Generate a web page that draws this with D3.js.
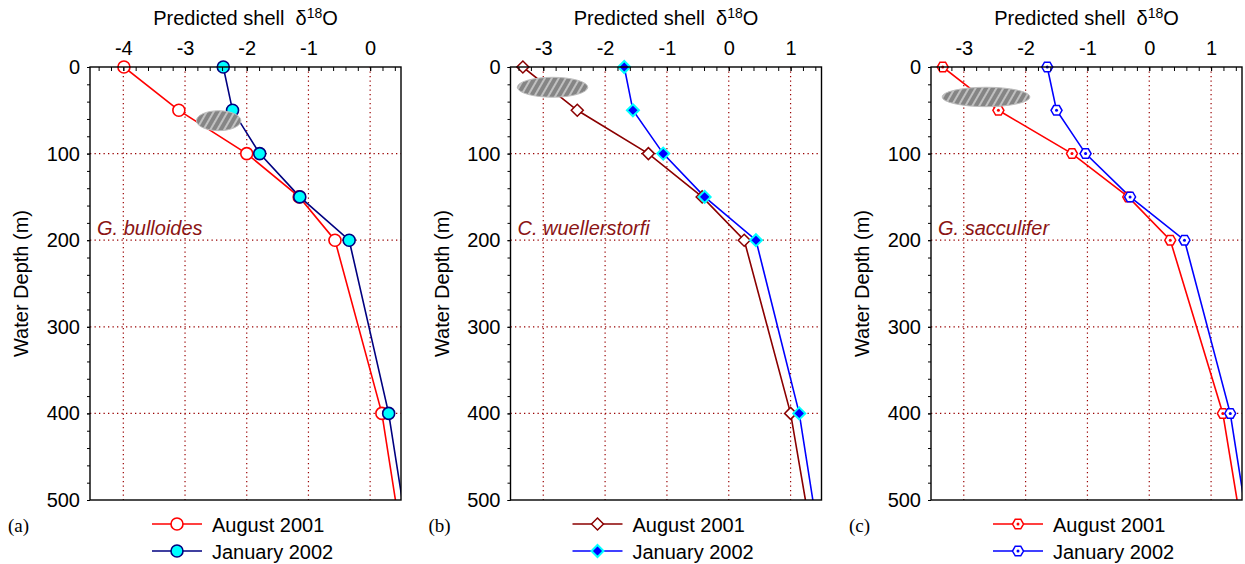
<!doctype html>
<html lang="en">
<head>
  <meta charset="utf-8">
  <style>
    body { margin: 0; background: #fff; }
    text { font-family: "Liberation Sans", Arial, Helvetica, sans-serif; }
    text.tag { font-family: "Liberation Serif", "Times New Roman", serif; }
  </style>
</head>
<body>
  <script src="https://d3js.org/d3.v7.min.js"></script>
  <div id="chart"></div>
  <script>
    // Data
    var depths = [0, 50, 100, 150, 200, 400, 500];
    var markerDepthMax = 400;   // no marker on the 500 m end point

    var augA = [-3.99, -3.10, -2.00, -1.15, -0.57, 0.19, 0.41];
    var janA = [-2.38, -2.23, -1.79, -1.14, -0.34, 0.30, 0.52];
    var augB = [-3.33, -2.45, -1.30, -0.43, 0.25, 1.00, 1.24];
    var janB = [-1.69, -1.55, -1.06, -0.39, 0.44, 1.14, 1.36];
    var augC = [-3.34, -2.44, -1.25, -0.34, 0.34, 1.19, 1.42];
    var janC = [-1.65, -1.50, -1.03, -0.31, 0.57, 1.31, 1.53];

    var species = ["G. bulloides", "C. wuellerstorfi", "G. sacculifer"];
    var panelTags = ["(a)", "(b)", "(c)"];
    var seriesNames = ["August 2001", "January 2002"];
    var xTicksA = [-4, -3, -2, -1, 0];
    var xTicksBC = [-3, -2, -1, 0, 1];
    var depthTicks = [0, 100, 200, 300, 400, 500];
    var depthGrid = [100, 200, 300, 400];
    // shaded blobs: centre (d18O, depth) and half widths in data units
    var blobA = [-2.455, 62, 0.36, 11.5];
    var blobB = [-2.85, 23.4, 0.57, 11.5];
    var blobC = [-2.64, 34.6, 0.71, 11.2];

    var width = 1245, height = 564;
    var plotTop = 67, ph = 433, pw = 311;

    var panels = [
      {left: 90, dom: [-4.54, 0.5], ticks: xTicksA, aug: augA, jan: janA, blob: blobA,
       augStyle: {line: "#ff0000", fill: "#fff", stroke: "#ff0000", shape: "circle"},
       janStyle: {line: "#000080", fill: "#00ffff", stroke: "#000080", shape: "circle"}},
      {left: 510.5, dom: [-3.53, 1.5], ticks: xTicksBC, aug: augB, jan: janB, blob: blobB,
       augStyle: {line: "#8b0000", fill: "#fff", stroke: "#8b0000", shape: "diamond"},
       janStyle: {line: "#0000ff", fill: "#0000ff", stroke: "#00ffff", shape: "diamond"}},
      {left: 931, dom: [-3.53, 1.5], ticks: xTicksBC, aug: augC, jan: janC, blob: blobC,
       augStyle: {line: "#ff0000", fill: "#fff", stroke: "#ff0000", shape: "hexagon"},
       janStyle: {line: "#0000ff", fill: "#fff", stroke: "#0000ff", shape: "hexagon"}}
    ];

    var svg = d3.select("#chart").append("svg")
      .attr("width", width).attr("height", height);

    var defs = svg.append("defs");
    var pat = defs.append("pattern").attr("id", "hatch")
      .attr("patternUnits", "userSpaceOnUse")
      .attr("width", 6).attr("height", 6)
      .attr("patternTransform", "rotate(30)");
    pat.append("rect").attr("width", 6).attr("height", 6).attr("fill", "#858585");
    pat.append("line").attr("x1", 1).attr("y1", 0).attr("x2", 1).attr("y2", 6)
      .attr("stroke", "#cfcfcf").attr("stroke-width", 1.6);

    function markerPath(shape) {
      if (shape === "diamond") return "M0,-6L6,0L0,6L-6,0Z";
      if (shape === "hexagon") {
        var pts = d3.range(6).map(function(k) {
          var a = Math.PI / 3 * k;
          return [5.5 * Math.cos(a), 5.5 * Math.sin(a)];
        });
        return "M" + pts.join("L") + "Z";
      }
      return null;
    }

    function drawMarker(g, x, y, st) {
      if (st.shape === "circle") {
        g.append("circle").attr("cx", x).attr("cy", y).attr("r", 6)
          .attr("fill", st.fill).attr("stroke", st.stroke).attr("stroke-width", 1.6);
      } else {
        g.append("path").attr("d", markerPath(st.shape))
          .attr("transform", "translate(" + x + "," + y + ")")
          .attr("fill", st.fill).attr("stroke", st.stroke)
          .attr("stroke-width", st.shape === "diamond" && st.fill !== "#fff" ? 2 : 1.5);
        if (st.shape === "hexagon") {
          g.append("circle").attr("cx", x).attr("cy", y).attr("r", 1.5).attr("fill", st.stroke);
        }
      }
    }

    panels.forEach(function(p, i) {
      var x = d3.scaleLinear().domain(p.dom).range([p.left, p.left + pw]);
      var y = d3.scaleLinear().domain([0, 500]).range([plotTop, plotTop + ph]);
      var g = svg.append("g");
      var clipId = "clip" + i;
      defs.append("clipPath").attr("id", clipId).append("rect")
        .attr("x", p.left).attr("y", plotTop).attr("width", pw).attr("height", ph);

      // grid
      var grid = g.append("g").attr("stroke", "#990000").attr("stroke-width", 1.2)
        .attr("stroke-dasharray", "1.3,3.2");
      grid.selectAll("line.v").data(p.ticks).enter().append("line")
        .attr("x1", d => x(d)).attr("x2", d => x(d)).attr("y1", plotTop).attr("y2", plotTop + ph);
      grid.selectAll("line.h").data(depthGrid).enter().append("line")
        .attr("x1", p.left).attr("x2", p.left + pw).attr("y1", d => y(d)).attr("y2", d => y(d));

      // species label
      g.append("text").attr("x", p.left + 7).attr("y", 235)
        .attr("font-size", 20).attr("font-style", "italic").attr("fill", "#8b1414")
        .text(species[i]);

      // lines
      var line = d3.line().x(d => x(d[0])).y(d => y(d[1]));
      var data = g.append("g").attr("clip-path", "url(#" + clipId + ")");
      [[p.aug, p.augStyle], [p.jan, p.janStyle]].forEach(function(s) {
        data.append("path").datum(s[0].map((v, k) => [v, depths[k]]))
          .attr("d", line).attr("fill", "none").attr("stroke", s[1].line).attr("stroke-width", 1.6);
      });
      [[p.aug, p.augStyle], [p.jan, p.janStyle]].forEach(function(s) {
        s[0].forEach(function(v, k) {
          if (depths[k] <= markerDepthMax) drawMarker(g, x(v), y(depths[k]), s[1]);
        });
      });

      // shaded blob
      var b = p.blob;
      g.append("ellipse").attr("cx", x(b[0])).attr("cy", y(b[1]))
        .attr("rx", x(b[0] + b[2]) - x(b[0])).attr("ry", y(b[1] + b[3]) - y(b[1]))
        .attr("fill", "url(#hatch)").attr("stroke", "#bdbdbd").attr("stroke-width", 1);

      // axes
      var minorX = d3.range(Math.ceil(p.dom[0] * 5), Math.floor(p.dom[1] * 5) + 1).map(d => d / 5);
      var top_ax = g.append("g").attr("transform", "translate(0," + plotTop + ")")
        .call(d3.axisTop(x).tickValues(minorX).tickSize(-4).tickFormat(""));
      var lab_ax = g.append("g").attr("transform", "translate(0," + plotTop + ")")
        .call(d3.axisTop(x).tickValues(p.ticks).tickSize(-4).tickPadding(0)
          .tickFormat(d => String(d)));
      lab_ax.selectAll("text").attr("y", -12).attr("font-size", 20).attr("fill", "#000")
        .style("font-family", "'Liberation Sans', Arial, sans-serif");
      var minorY = d3.range(0, 501, 20);
      var left_ax = g.append("g").attr("transform", "translate(" + p.left + ",0)")
        .call(d3.axisLeft(y).tickValues(minorY).tickSize(3).tickFormat(""));
      var ylab = g.append("g").attr("transform", "translate(" + p.left + ",0)")
        .call(d3.axisLeft(y).tickValues(depthTicks).tickSize(3).tickPadding(7)
          .tickFormat(d => String(d)));
      ylab.selectAll("text").attr("font-size", 20).attr("fill", "#000")
        .style("font-family", "'Liberation Sans', Arial, sans-serif");
      [top_ax, lab_ax, left_ax, ylab].forEach(function(a) {
        a.select(".domain").remove();
        a.selectAll("line").attr("stroke", "#000").attr("stroke-width", 1);
      });

      // frame
      g.append("rect").attr("x", p.left).attr("y", plotTop).attr("width", pw).attr("height", ph)
        .attr("fill", "none").attr("stroke", "#000").attr("stroke-width", 1.4);

      // axis titles
      var title = g.append("text").attr("x", p.left + pw / 2).attr("y", 25)
        .attr("text-anchor", "middle").attr("font-size", 20).attr("xml:space", "preserve");
      title.append("tspan").text("Predicted shell  \u03b4");
      title.append("tspan").attr("font-size", 14).attr("dy", -7).text("18");
      title.append("tspan").attr("dy", 7).text("O");

      g.append("text").attr("transform", "translate(" + (p.left - 62) + "," + (plotTop + ph / 2) + ") rotate(-90)")
        .attr("text-anchor", "middle").attr("font-size", 20).text("Water Depth (m)");

      // panel tag
      g.append("text").attr("class", "tag").attr("x", p.left - 82).attr("y", 532)
        .attr("font-size", 19).text(panelTags[i]);

      // legend
      [p.augStyle, p.janStyle].forEach(function(st, k) {
        var ly = 524 + k * 27;
        var lx = p.left + 62;
        g.append("line").attr("x1", lx).attr("x2", lx + 50).attr("y1", ly).attr("y2", ly)
          .attr("stroke", st.line).attr("stroke-width", 1.6);
        drawMarker(g, lx + 25, ly, st);
        g.append("text").attr("x", lx + 60).attr("y", ly + 7.5).attr("font-size", 20)
          .text(seriesNames[k]);
      });
    });
  </script>
</body>
</html>
